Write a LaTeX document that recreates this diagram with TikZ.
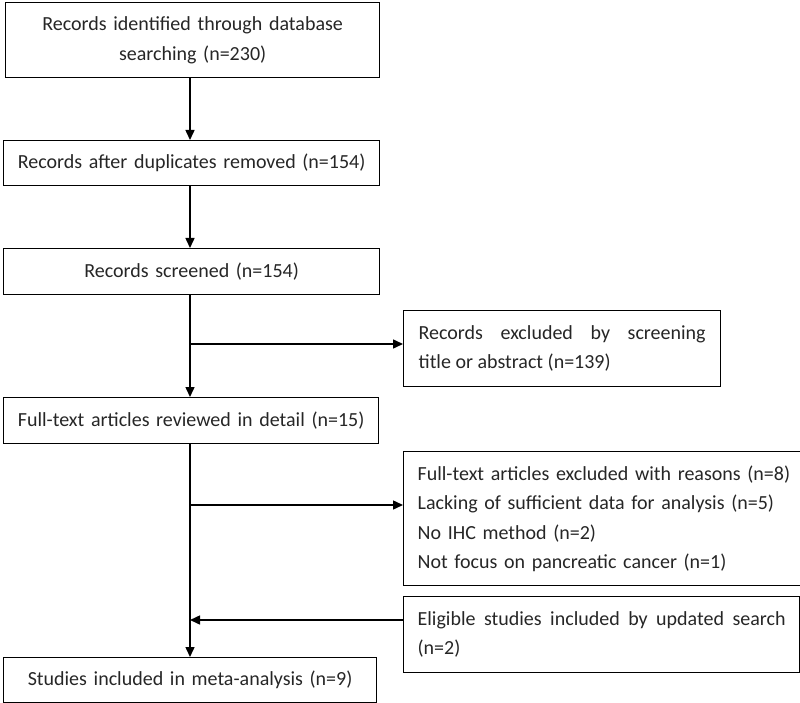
\documentclass[tikz,border=0pt]{standalone}
\usepackage{fontspec}
\setmainfont{Carlito}
\usetikzlibrary{arrows.meta}
\hyphenpenalty=10000
\exhyphenpenalty=10000
\begin{document}
\begin{tikzpicture}[x=1pt,y=-1pt,
  box/.style={draw, line width=1.3pt, anchor=north west, inner sep=0pt, text=black!85, font=\fontsize{20}{29.5}\selectfont},
  arr/.style={line width=1.5pt, -{Triangle[length=10pt,width=9pt]}},
  ln/.style={line width=1.5pt}]
\useasboundingbox (0,0) rectangle (800,703);
\node[box, minimum width=374pt, minimum height=75pt, text width=374pt, align=center] (b1) at (5,2) {Records identified through database\\searching (n=230)};
\node[box, minimum width=376pt, minimum height=45pt, text width=376pt, align=center] (b2) at (3,140) {Records after duplicates removed (n=154)};
\node[box, minimum width=376pt, minimum height=46pt, text width=376pt, align=center] (b3) at (3,248) {Records screened (n=154)};
\node[box, minimum width=317pt, minimum height=76pt, text width=287pt, inner xsep=15pt, align=justify] (ex1) at (403,310) {Records excluded by screening\linebreak title or abstract (n=139)};
\node[box, minimum width=375pt, minimum height=46pt, text width=375pt, align=center] (b4) at (3,397) {Full-text articles reviewed in detail (n=15)};
\node[box, minimum width=395pt, minimum height=134pt, text width=381pt, inner xsep=14pt, align=left] (ex2) at (403,451) {Full-text articles excluded with reasons (n=8)\\Lacking of sufficient data for analysis (n=5)\\No IHC method (n=2)\\Not focus on pancreatic cancer (n=1)};
\node[box, minimum width=395pt, minimum height=76pt, text width=368pt, inner xsep=14pt, align=justify] (up) at (403,596) {Eligible studies included by updated search (n=2)};
\node[box, minimum width=373pt, minimum height=45pt, text width=373pt, align=center] (b5) at (3,657) {Studies included in meta-analysis (n=9)};
\coordinate (cx) at (190,0);
\coordinate (j1) at (190,344);
\coordinate (j2) at (190,505);
\coordinate (j3) at (190,620);
\draw[arr] (b1.south -| cx) -- (b2.north -| cx);
\draw[arr] (b2.south -| cx) -- (b3.north -| cx);
\draw[arr] (b3.south -| cx) -- (b4.north -| cx);
\draw[arr] (j1) -- (j1 -| ex1.west);
\draw[arr] (b4.south -| cx) -- (b5.north -| cx);
\draw[arr] (j2) -- (j2 -| ex2.west);
\draw[arr] (up.west |- j3) -- (j3);
\end{tikzpicture}
\end{document}
